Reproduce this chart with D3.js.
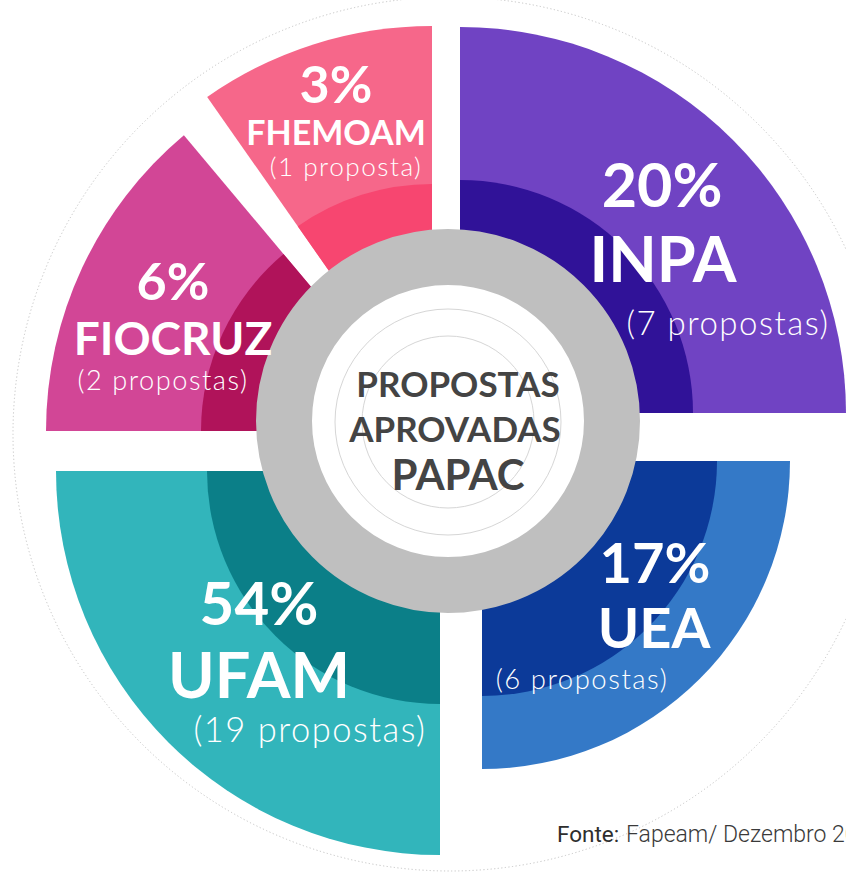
<!DOCTYPE html>
<html>
<head>
<meta charset="utf-8">
<script src="https://cdn.jsdelivr.net/npm/d3@7"></script>
<style>
  html, body { margin: 0; padding: 0; background: #fff; }
  #container { width: 846px; height: 880px; overflow: hidden; }
</style>
</head>
<body>
<div id="container"></div>
<script>
// data
const institutions = ["INPA", "UEA", "UFAM", "FIOCRUZ", "FHEMOAM"];
const percents = [20, 17, 54, 6, 3];
const proposals = [7, 6, 19, 2, 1];
const centerTitle = ["PROPOSTAS", "APROVADAS", "PAPAC"];
const sourceLabel = "Fonte:";
const sourceNote = "Fapeam/ Dezembro 2017";

// colours (light outer band, dark inner band)
const lightColors = ["#7043c3", "#3479c7", "#32b5bb", "#d24696", "#f6678a"];
const darkColors = ["#301298", "#0c3a99", "#0b7f88", "#b0135a", "#f74670"];

// layout of the exploded segments: angles in degrees, corner of each wedge, radii
const segLayout = [
  {start: 0, end: 90, cx: 460, cy: 413, r: 386, rDark: 233},
  {start: 90, end: 180, cx: 482, cy: 461, r: 308, rDark: 235},
  {start: 180, end: 270, cx: 440, cy: 471, r: 384, rDark: 233},
  {start: 270, end: 320, cx: 432, cy: 431, r: 386, rDark: 231},
  {start: 325, end: 360, cx: 432, cy: 418, r: 392, rDark: 234}
];

// label placement: [x, y, font size] for percent, name, count
const labelLayout = [
  {pct: [662, 207, 61], name: [663, 282, 63], count: [728, 335, 33]},
  {pct: [655, 583, 56], name: [654, 648, 56], count: [582, 689, 27.5]},
  {pct: [259, 625, 60], name: [259, 698, 63], count: [310, 742, 34.5]},
  {pct: [173, 300, 52], name: [173, 355, 46], count: [163, 390, 27.2]},
  {pct: [336, 103, 52], name: [336, 145, 34], count: [346, 176, 26.2]}
];

const width = 846, height = 880;
const center = [448, 421];

const svg = d3.select("#container")
  .append("svg")
  .attr("width", width)
  .attr("height", height);

const rad = d3.scaleLinear().domain([0, 360]).range([0, 2 * Math.PI]);

const rows = institutions.map((name, i) => ({
  name,
  pct: percents[i],
  count: proposals[i],
  ...segLayout[i],
  label: labelLayout[i],
  light: lightColors[i],
  dark: darkColors[i]
}));

// dotted outer guide circle
svg.append("circle")
  .attr("cx", 450)
  .attr("cy", 434)
  .attr("r", 437)
  .attr("fill", "none")
  .attr("stroke", "#c4c4c4")
  .attr("stroke-width", 1)
  .attr("stroke-dasharray", "1.2,2.4");

const arc = d3.arc();

const seg = svg.selectAll("g.seg")
  .data(rows)
  .enter().append("g")
  .attr("class", "seg")
  .attr("transform", d => `translate(${d.cx},${d.cy})`);

seg.append("path")
  .attr("fill", d => d.light)
  .attr("d", d => arc({innerRadius: 0, outerRadius: d.r, startAngle: rad(d.start), endAngle: rad(d.end)}));

seg.append("path")
  .attr("fill", d => d.dark)
  .attr("d", d => arc({innerRadius: 0, outerRadius: d.rDark, startAngle: rad(d.start), endAngle: rad(d.end)}));

// center ring
svg.append("circle")
  .attr("cx", center[0])
  .attr("cy", center[1])
  .attr("r", 164)
  .attr("fill", "#fff")
  .attr("stroke", "#bfbfbf")
  .attr("stroke-width", 56);

[113, 86].forEach(r => {
  svg.append("circle")
    .attr("cx", center[0])
    .attr("cy", center[1] + 1)
    .attr("r", r)
    .attr("fill", "none")
    .attr("stroke", "#d6d6d6")
    .attr("stroke-width", 1);
});

const titleLayout = [[458, 397, 35], [455, 442, 35], [458, 490, 42]];
svg.selectAll("text.title")
  .data(centerTitle)
  .enter().append("text")
  .attr("class", "title")
  .attr("x", (d, i) => titleLayout[i][0])
  .attr("y", (d, i) => titleLayout[i][1])
  .attr("text-anchor", "middle")
  .style("font-family", "Lato, 'Open Sans', sans-serif")
  .style("font-weight", 700)
  .style("font-size", (d, i) => titleLayout[i][2] + "px")
  .style("fill", "#444")
  .text(d => d);

// segment labels
const labels = svg.selectAll("g.lab")
  .data(rows)
  .enter().append("g")
  .attr("class", "lab")
  .style("font-family", "Lato, 'Open Sans', sans-serif")
  .style("fill", "#fff")
  .attr("text-anchor", "middle");

labels.append("text")
  .attr("x", d => d.label.pct[0])
  .attr("y", d => d.label.pct[1])
  .style("font-size", d => d.label.pct[2] + "px")
  .style("font-weight", 700)
  .text(d => d.pct + "%");

labels.append("text")
  .attr("x", d => d.label.name[0])
  .attr("y", d => d.label.name[1])
  .style("font-size", d => d.label.name[2] + "px")
  .style("font-weight", 700)
  .text(d => d.name);

labels.append("text")
  .attr("x", d => d.label.count[0])
  .attr("y", d => d.label.count[1])
  .style("font-size", d => d.label.count[2] + "px")
  .style("font-weight", 300)
  .style("letter-spacing", "1.5px")
  .text(d => `(${d.count} ${d.count === 1 ? "proposta" : "propostas"})`);

// source note (runs off the right edge, as in the original)
const noteFont = "Roboto, sans-serif";
svg.append("text")
  .attr("x", 557)
  .attr("y", 842)
  .style("font-family", noteFont)
  .style("font-size", "22.5px")
  .style("font-weight", 400)
  .style("fill", "#2e2e2e")
  .text(sourceLabel);
svg.append("text")
  .attr("x", 626)
  .attr("y", 842)
  .style("font-family", noteFont)
  .style("font-size", "23px")
  .style("font-weight", 300)
  .style("fill", "#3a3a3a")
  .text(sourceNote);
</script>
</body>
</html>
